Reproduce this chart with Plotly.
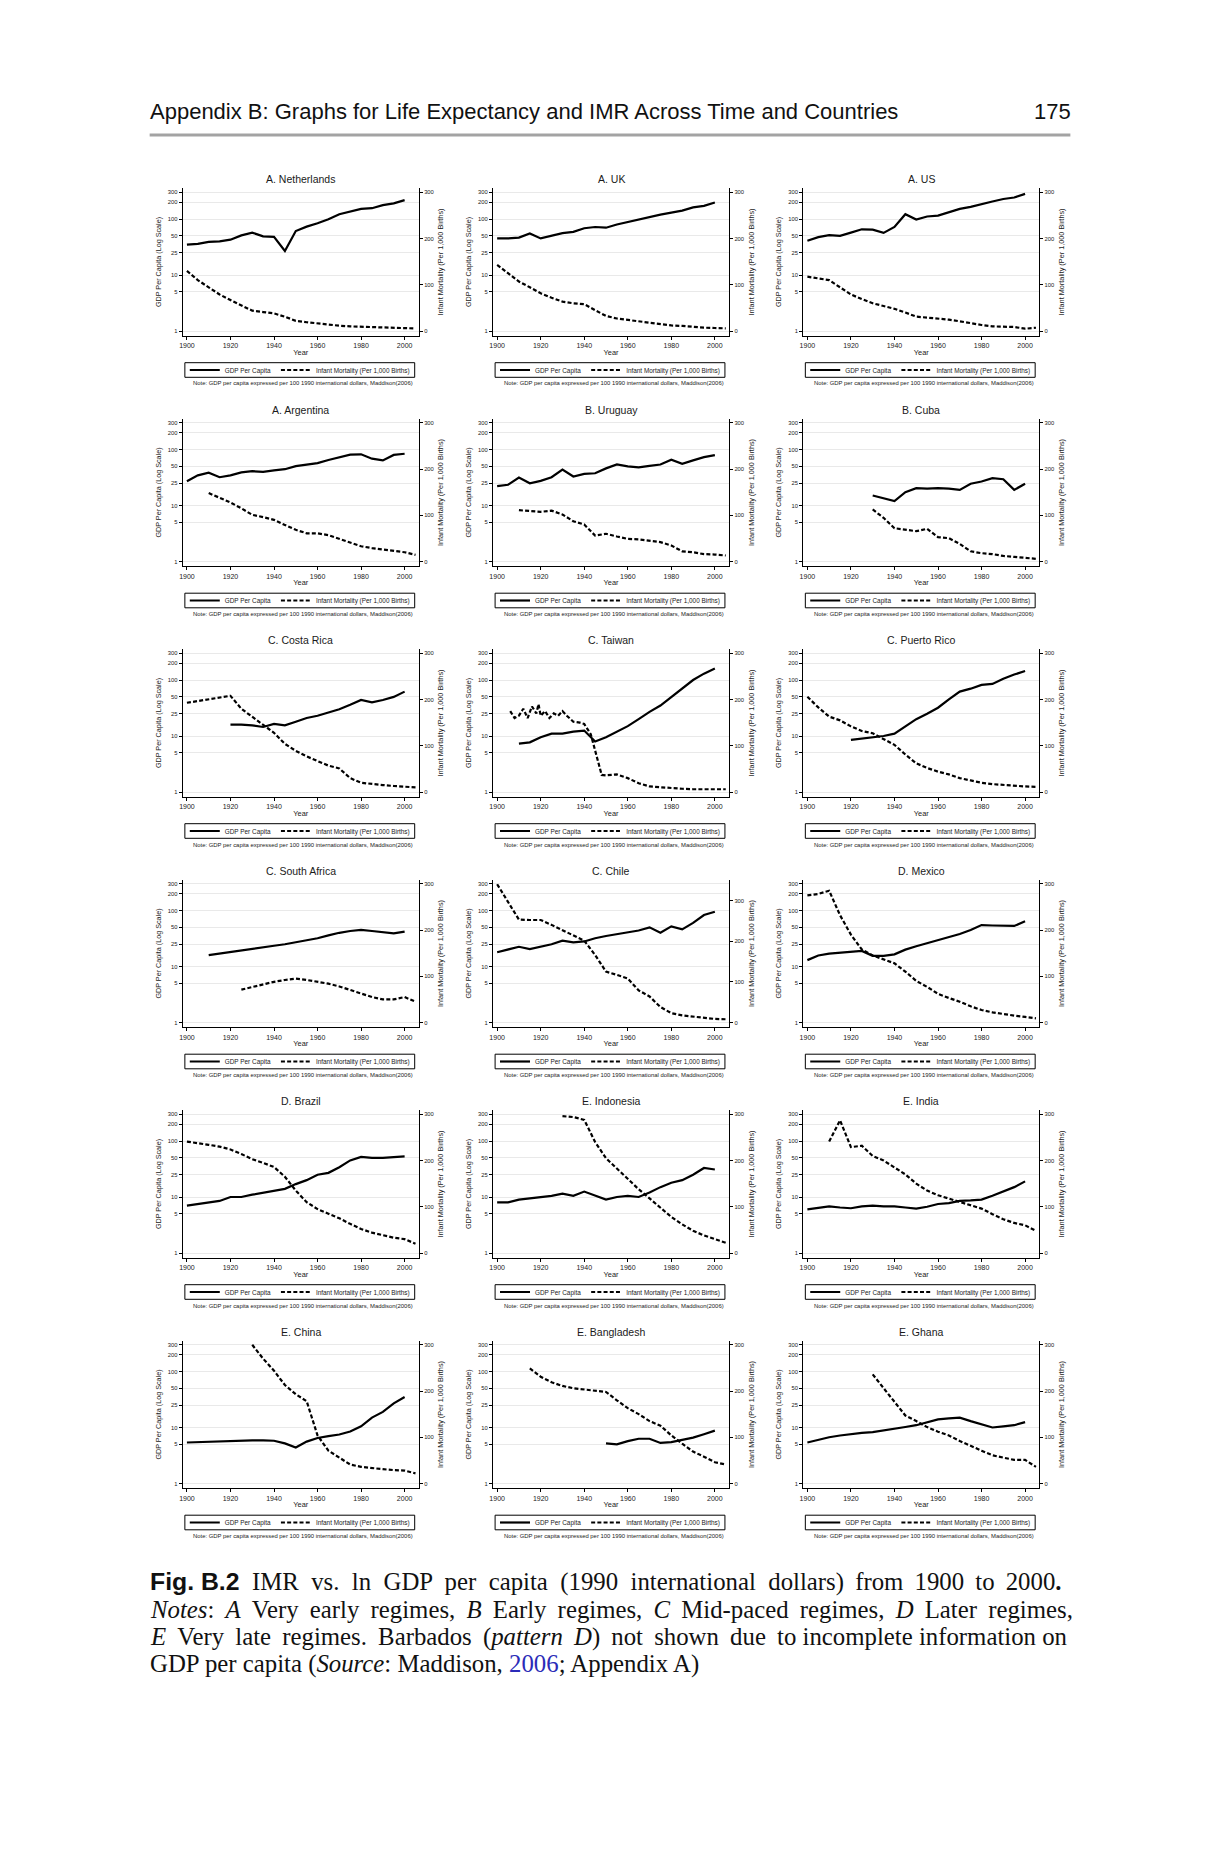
import plotly.graph_objects as go

# The page body adds an 8px margin, so the figure is drawn 8px smaller and
# reference pixel positions are shifted by that offset.
PAGE_OFF = 8
W, H = 1220 - PAGE_OFF, 1850 - PAGE_OFF
FONT = "Liberation Sans"
SERIF = "Liberation Serif"

# ---------------- data ----------------
YEARS = list(range(1900, 2006, 5))  # 1900 ... 2005
N = None

netherlands_gdp = [34.9, 36, 39, 40, 42.7, 51, 57, 49, 48, 26.9, 61, 73, 84, 99, 122, 138, 152, 156, 177, 190, 217, N]
netherlands_imr = [130, 110, 94.5, 79, 67, 55.5, 44, 41, 38, 31, 22, 19, 16, 14, 11.5, 10, 9.4, 8, 7.2, 6.5, 5.8, 5.5]

uk_gdp = [45.2, 45, 46.5, 55, 45, 51, 56, 59, 68.5, 72, 70, 80, 89, 100, 109, 120, 130, 141, 161, 172, 197, N]
uk_imr = [143, 125, 107, 94.5, 81.5, 72, 63.5, 60, 58, 45, 32.5, 27, 24, 21, 19, 15, 12, 11, 8.7, 7.2, 6.5, 5.8]

us_gdp = [41, 47.5, 51.5, 50, 57, 65.5, 64.5, 56.5, 72, 122, 98, 111, 115, 134, 152, 165, 186, 205, 228, 242, 281, N]
us_imr = [117.5, 114, 110, 94.5, 79, 69, 60, 54, 48, 40, 31, 29, 27.4, 24.5, 21, 16.6, 13, 10, 9.4, 8.7, 5, 7]

argentina_gdp = [27.2, 34.5, 38.5, 32, 34.5, 39, 41, 40, 42.5, 44.5, 50.5, 53, 57, 65, 72.5, 81, 82, 68.5, 64, 80, 84, N]
argentina_imr = [N, N, 148, 138, 127.6, 115, 101, 96, 90, 79, 68.5, 61, 61, 57, 49, 40, 33, 29, 26, 24, 20, 14.4]

uruguay_gdp = [22.2, 23.5, 31.5, 25, 27.5, 32, 43.7, 33, 36.6, 37.7, 46, 54, 50, 48, 51, 54, 65.5, 55.5, 64, 73, 79.5, N]
uruguay_imr = [N, N, 111, 109.6, 107.5, 110, 101.7, 87, 80, 56, 60, 54, 49, 48, 45.5, 42, 34.6, 22, 20, 16, 15, 13]

cuba_gdp = [N, N, N, N, N, N, 15.1, 13.5, 12, 17.3, 20.4, 20, 20.4, 20, 19, 24.5, 26.8, 30.8, 29.5, 19, 24.5, N]
cuba_imr = [N, N, N, N, N, N, 112.5, 94.5, 72, 69, 65.6, 70.7, 52.6, 50.5, 38, 22, 18, 16, 12, 10, 7.2, 5.8]

costa_rica_gdp = [N, N, N, N, 16, 16, 15.5, 14.5, 16.5, 15.5, 18, 21, 23, 26, 30, 36, 44, 40, 44, 50, 62, N]
costa_rica_imr = [193, 197, 200, 204, 208, 180, 162, 144, 128, 104, 89, 77, 67, 57, 51, 30, 20, 17, 15, 13, 11, 10]

taiwan_gdp = [N, N, 7.3, 7.7, 9.5, 11, 11, 12, 12.5, 8, 9.5, 12, 15, 20, 27, 35, 50, 70, 100, 130, 160, N]
taiwan_imr_years = [1906, 1908, 1910, 1912, 1914, 1916, 1918, 1919, 1920, 1922, 1924, 1926, 1928, 1930, 1932,
                    1935, 1938, 1940, 1943, 1948, 1950, 1955, 1960, 1965, 1970, 1975, 1980, 1985, 1990,
                    1995, 2000, 2005]
taiwan_imr = [175, 160, 165, 180, 160, 185, 170, 190, 165, 175, 160, 170, 165, 175, 165,
              152, 150, 147, 125, 37, 36, 38, 30, 19, 12, 10, 8, 7, 6, 6, 6, 6]

puerto_rico_gdp = [N, N, N, N, 8.5, 9, 9.5, 10, 11, 15, 20, 25, 32, 45, 62, 70, 82, 85, 105, 125, 145, N]
puerto_rico_imr = [206, 183, 163, 155, 142, 132, 127, 114, 102, 81, 62, 52, 44, 38, 30, 25, 20, 17, 15, 14, 12, 11]

south_africa_gdp = [N, N, 16, 17, 18, 19, 20.5, 22, 23.5, 25, 27, 30, 32, 36, 40, 43, 45, 43, 41, 39, 42, N]
south_africa_imr = [N, N, N, N, N, 71, 77, 83, 88, 92, 95, 92, 88, 84, 78, 70, 62, 55, 50, 50, 55, 45]

chile_gdp = [18, 20, 22.5, 20.5, 22.5, 25, 29, 27, 28, 32, 35, 37.5, 40.5, 44, 50, 40, 52, 46, 60, 83, 95, N]
chile_imr = [340, 295, 253, 252, 252, 240, 227, 213, 201, 166, 125, 117, 108, 79, 64, 38, 23, 17.5, 14.6, 11.7, 8.7, 8]

mexico_gdp = [13, 15.7, 17, 17.5, 18, 19, 15.5, 15.5, 16.5, 20, 23, 26, 30, 34, 38, 45, 55, 54, 53, 53, 64, N]
mexico_imr = [275, 278, 285, 232, 190, 158, 145, 136, 128, 110, 90, 77, 62, 53, 45, 35, 27, 22, 18, 15, 12, 9]

brazil_gdp = [7, 7.5, 8, 8.5, 10, 10, 11, 12, 13, 14, 17, 20, 25, 27, 34, 45, 52, 50, 50, 52, 53, N]
brazil_imr = [241, 238, 234, 230, 224, 214, 203, 195, 186, 165, 135, 110, 95, 85, 75, 63, 52, 44, 38, 33, 30, 20]

indonesia_gdp = [8, 8, 9, 9.5, 10, 10.5, 11.5, 10.5, 12.5, 10.5, 9, 10, 10.5, 10, 12, 15, 18, 20, 25, 33, 31, N]
indonesia_imr = [N, N, N, N, N, N, 296, 294, 288, 240, 205, 182, 160, 138, 118, 98, 78, 62, 48, 38, 30, 22]

india_gdp = [6, 6.3, 6.8, 6.5, 6.3, 6.8, 7, 6.8, 6.8, 6.5, 6.2, 6.7, 7.5, 7.8, 8.5, 8.7, 9, 10.5, 12.5, 15, 19, N]
india_imr = [N, N, 241, 287, 229, 232, 210, 200, 185, 170, 150, 135, 125, 118, 110, 104, 96, 84, 73, 65, 60, 48]

china_gdp = [5.4, 5.5, 5.6, 5.6, 5.7, 5.8, 5.9, 5.9, 5.8, 5.2, 4.4, 5.6, 6.5, 7, 7.5, 8.5, 10.5, 15, 19, 27, 35, N]
china_imr = [N, N, N, N, N, N, 300, 270, 244, 213, 193, 178, 104, 71, 56, 41, 36, 33, 31, 29, 28, 22]

bangladesh_gdp = [N, N, N, N, N, N, N, N, N, N, 5.2, 5.0, 5.7, 6.3, 6.3, 5.3, 5.5, 6, 6.6, 7.6, 8.8, N]
bangladesh_imr = [N, N, N, 249, 231, 219, 211, 206, 203, 201, 198, 180, 163, 150, 135, 125, 104, 86, 69, 58, 46, 41]

ghana_gdp = [5.4, 6, 6.7, 7.2, 7.7, 8, 8.3, 8.8, 9.5, 10.2, 11, 12.5, 14, 14.5, 15, 13, 11.5, 10, 10.5, 11, 12.5, N]
ghana_imr = [N, N, N, N, N, N, 236, 206, 178, 147, 135, 122, 112, 104, 92, 81, 71, 61, 56, 51, 51, 36]

PANELS = [
    ("A. Netherlands", netherlands_gdp, YEARS, netherlands_imr),
    ("A. UK", uk_gdp, YEARS, uk_imr),
    ("A. US", us_gdp, YEARS, us_imr),
    ("A. Argentina", argentina_gdp, YEARS, argentina_imr),
    ("B. Uruguay", uruguay_gdp, YEARS, uruguay_imr),
    ("B. Cuba", cuba_gdp, YEARS, cuba_imr),
    ("C. Costa Rica", costa_rica_gdp, YEARS, costa_rica_imr),
    ("C. Taiwan", taiwan_gdp, taiwan_imr_years, taiwan_imr),
    ("C. Puerto Rico", puerto_rico_gdp, YEARS, puerto_rico_imr),
    ("C. South Africa", south_africa_gdp, YEARS, south_africa_imr),
    ("C. Chile", chile_gdp, YEARS, chile_imr),
    ("D. Mexico", mexico_gdp, YEARS, mexico_imr),
    ("D. Brazil", brazil_gdp, YEARS, brazil_imr),
    ("E. Indonesia", indonesia_gdp, YEARS, indonesia_imr),
    ("E. India", india_gdp, YEARS, india_imr),
    ("E. China", china_gdp, YEARS, china_imr),
    ("E. Bangladesh", bangladesh_gdp, YEARS, bangladesh_imr),
    ("E. Ghana", ghana_gdp, YEARS, ghana_imr),
]

# right-axis top (value level with the left 300 line); Chile's IMR exceeds 300
IMR_AXIS_TOP = {"C. Chile": 341}

GDP_TICKS = [1, 5, 10, 25, 50, 100, 200, 300]
IMR_TICKS = [0, 100, 200, 300]
YEAR_TICKS = [1900, 1920, 1940, 1960, 1980, 2000]
GDP_NAME = "GDP Per Capita"
IMR_NAME = "Infant Mortality (Per 1,000 Births)"
NOTE = "Note: GDP per capita expressed per 100 1990 international dollars, Maddison(2006)"

# ---------------- layout geometry (reference px) ----------------
COL_X = [180, 491, 802]
PLOT_W = 237
ROW0_TOP = 188.3
ROW_STEP = 230.5
PLOT_H = 147.4
PAD_TOP, PAD_BOT, SPAN = 4.0, 4.7, 138.7   # px above 300, below 1, and between
LOG_TOP = 2.477
LOG_RANGE = [-PAD_BOT * LOG_TOP / SPAN, LOG_TOP + PAD_TOP * LOG_TOP / SPAN]
X_RANGE = [1898.0, 2006.6]

TXT = "#1a1a1a"
fig = go.Figure()
annotations = []
shapes = []


def fx(v):
    return (v - PAGE_OFF) / W


def fy(v):
    return 1 - (v - PAGE_OFF) / H


for i, (title, gdp, imr_x, imr) in enumerate(PANELS):
    r, c = divmod(i, 3)
    k = i + 1
    left = COL_X[c]
    top = ROW0_TOP + r * ROW_STEP
    bottom = top + PLOT_H
    xs = "" if k == 1 else str(k)
    yl = 2 * i + 1
    yr = 2 * i + 2
    yls = "" if yl == 1 else str(yl)
    leg = "legend" if k == 1 else f"legend{k}"
    mtop = IMR_AXIS_TOP.get(title, 300)
    imr_range = [-PAD_BOT * mtop / SPAN, mtop + PAD_TOP * mtop / SPAN]

    fig.add_trace(go.Scatter(
        x=YEARS, y=gdp, mode="lines", name=GDP_NAME, connectgaps=False,
        line=dict(color="black", width=2.2),
        xaxis=f"x{xs}", yaxis=f"y{yls}", legend=leg, hoverinfo="skip"))
    fig.add_trace(go.Scatter(
        x=imr_x, y=imr, mode="lines", name=IMR_NAME, connectgaps=False,
        line=dict(color="black", width=2.2, dash="4px,2.2px"),
        xaxis=f"x{xs}", yaxis=f"y{yr}", legend=leg, hoverinfo="skip"))

    dom_x = [fx(left), fx(left + PLOT_W)]
    dom_y = [fy(bottom), fy(top)]

    fig.layout[f"xaxis{xs}"] = dict(
        domain=dom_x, anchor=f"y{yls}", range=X_RANGE, tickvals=YEAR_TICKS,
        ticks="outside", ticklen=3, tickwidth=1, tickcolor="black",
        showline=True, linecolor="black", linewidth=1, showgrid=False, zeroline=False,
        tickfont=dict(size=7, family=FONT, color=TXT),
        title=dict(text="Year", font=dict(size=7.4, family=FONT, color=TXT), standoff=1))
    fig.layout[f"yaxis{yls}"] = dict(
        domain=dom_y, anchor=f"x{xs}", type="log", range=LOG_RANGE,
        tickvals=GDP_TICKS, ticktext=[str(t) for t in GDP_TICKS],
        ticks="outside", ticklen=3, tickwidth=1, tickcolor="black",
        showline=True, linecolor="black", linewidth=1,
        showgrid=True, gridcolor="#e9e9e9", gridwidth=1.3, zeroline=False,
        tickfont=dict(size=5.8, family=FONT, color=TXT),
        title=dict(text="GDP Per Capita (Log Scale)", font=dict(size=7.2, family=FONT, color=TXT), standoff=5))
    fig.layout[f"yaxis{yr}"] = dict(
        domain=dom_y, anchor=f"x{xs}", overlaying=f"y{yls}", side="right",
        range=imr_range, tickvals=IMR_TICKS,
        ticks="outside", ticklen=3, tickwidth=1, tickcolor="black",
        showline=True, linecolor="black", linewidth=1, showgrid=False, zeroline=False,
        tickfont=dict(size=5.8, family=FONT, color=TXT),
        title=dict(text=IMR_NAME, font=dict(size=7.3, family=FONT, color=TXT), standoff=5))

    # legend frame and the legend itself centred inside it
    bx0, bx1 = left + 2.3, left + 232.7
    by0, by1 = top + 174.4, top + 189.0
    shapes.append(dict(type="rect", xref="paper", yref="paper",
                       x0=fx(bx0), x1=fx(bx1), y0=fy(by1), y1=fy(by0),
                       line=dict(color="black", width=1), fillcolor="rgba(0,0,0,0)"))
    fig.layout[leg] = dict(
        x=fx((bx0 + bx1) / 2), xanchor="center", y=fy((by0 + by1) / 2), yanchor="middle",
        orientation="h", borderwidth=0, bgcolor="rgba(0,0,0,0)",
        font=dict(size=6.4, family=FONT, color=TXT), itemwidth=30,
        tracegroupgap=0, itemclick=False, itemdoubleclick=False)

    cx = fx(left + PLOT_W / 2)
    annotations.append(dict(
        text=title, x=cx, y=fy(top - 9), xref="paper", yref="paper",
        xanchor="center", yanchor="middle", showarrow=False,
        font=dict(size=10.5, family=FONT, color=TXT)))
    annotations.append(dict(
        text=NOTE, x=fx(left + 121), y=fy(top + 195.2), xref="paper", yref="paper",
        xanchor="center", yanchor="middle", showarrow=False,
        font=dict(size=5.9, family=FONT, color=TXT)))

# ---------------- page header & caption ----------------
annotations.append(dict(
    text="Appendix B: Graphs for Life Expectancy and IMR Across Time and Countries",
    x=fx(145), y=fy(111), xref="paper", yref="paper", xanchor="left", yanchor="middle",
    showarrow=False, font=dict(size=22, family=FONT, color="#111")))
annotations.append(dict(
    text="175", x=fx(1072.5), y=fy(111), xref="paper", yref="paper", xanchor="right",
    yanchor="middle", showarrow=False, font=dict(size=22, family=FONT, color="#111")))
shapes.append(dict(type="line", xref="paper", yref="paper", x0=fx(147), x1=fx(1070),
                   y0=fy(135), y1=fy(135), line=dict(color="#a3a3a3", width=3)))

NB = "\u00a0"   # no-break space
TS = "\u2009"   # thin space; both stretch word gaps to imitate justified lines


def pad_spaces(s, pad, limit=None, rest=None):
    # pad the word spaces that are outside html tags
    out, in_tag, n = [], False, 0
    for ch in s:
        if ch == "<":
            in_tag = True
        elif ch == ">":
            in_tag = False
        if ch == " " and not in_tag:
            if limit is None or n < limit:
                out.append(" " + pad)
            elif rest is not None:
                out.append(" " + rest)
            else:
                out.append(ch)
            n += 1
        else:
            out.append(ch)
    return "".join(out)


CAPTION = [
    pad_spaces('<span style="font-family:Liberation Sans"><b>Fig.' + NB + 'B.2</b></span> IMR vs. ln GDP per capita '
               '(1990 international dollars) from 1900 to 2000<b>.</b>', NB, limit=9, rest=TS),
    pad_spaces('<i>Notes</i>: <i>A</i> Very early regimes, <i>B</i> Early regimes, <i>C</i> Mid-paced regimes, '
               '<i>D</i> Later regimes,', TS),
    pad_spaces('<i>E</i> Very late regimes. Barbados (<i>pattern D</i>) not shown due to incomplete information on',
               TS, limit=10),
    'GDP per capita (<i>Source</i>: Maddison, <span style="color:#2b2bb8">2006</span>; Appendix A)',
]

for j, line in enumerate(CAPTION):
    annotations.append(dict(
        text=line, x=fx(145), y=fy(1582 + 27.3 * j), xref="paper", yref="paper",
        xanchor="left", yanchor="middle", showarrow=False,
        font=dict(size=24.8, family=SERIF, color="#111")))

fig.update_layout(
    width=W, height=H, margin=dict(l=0, r=0, t=0, b=0),
    paper_bgcolor="white", plot_bgcolor="white", showlegend=True,
    annotations=annotations, shapes=shapes, font=dict(family=FONT))

fig.write_html("out.html")
